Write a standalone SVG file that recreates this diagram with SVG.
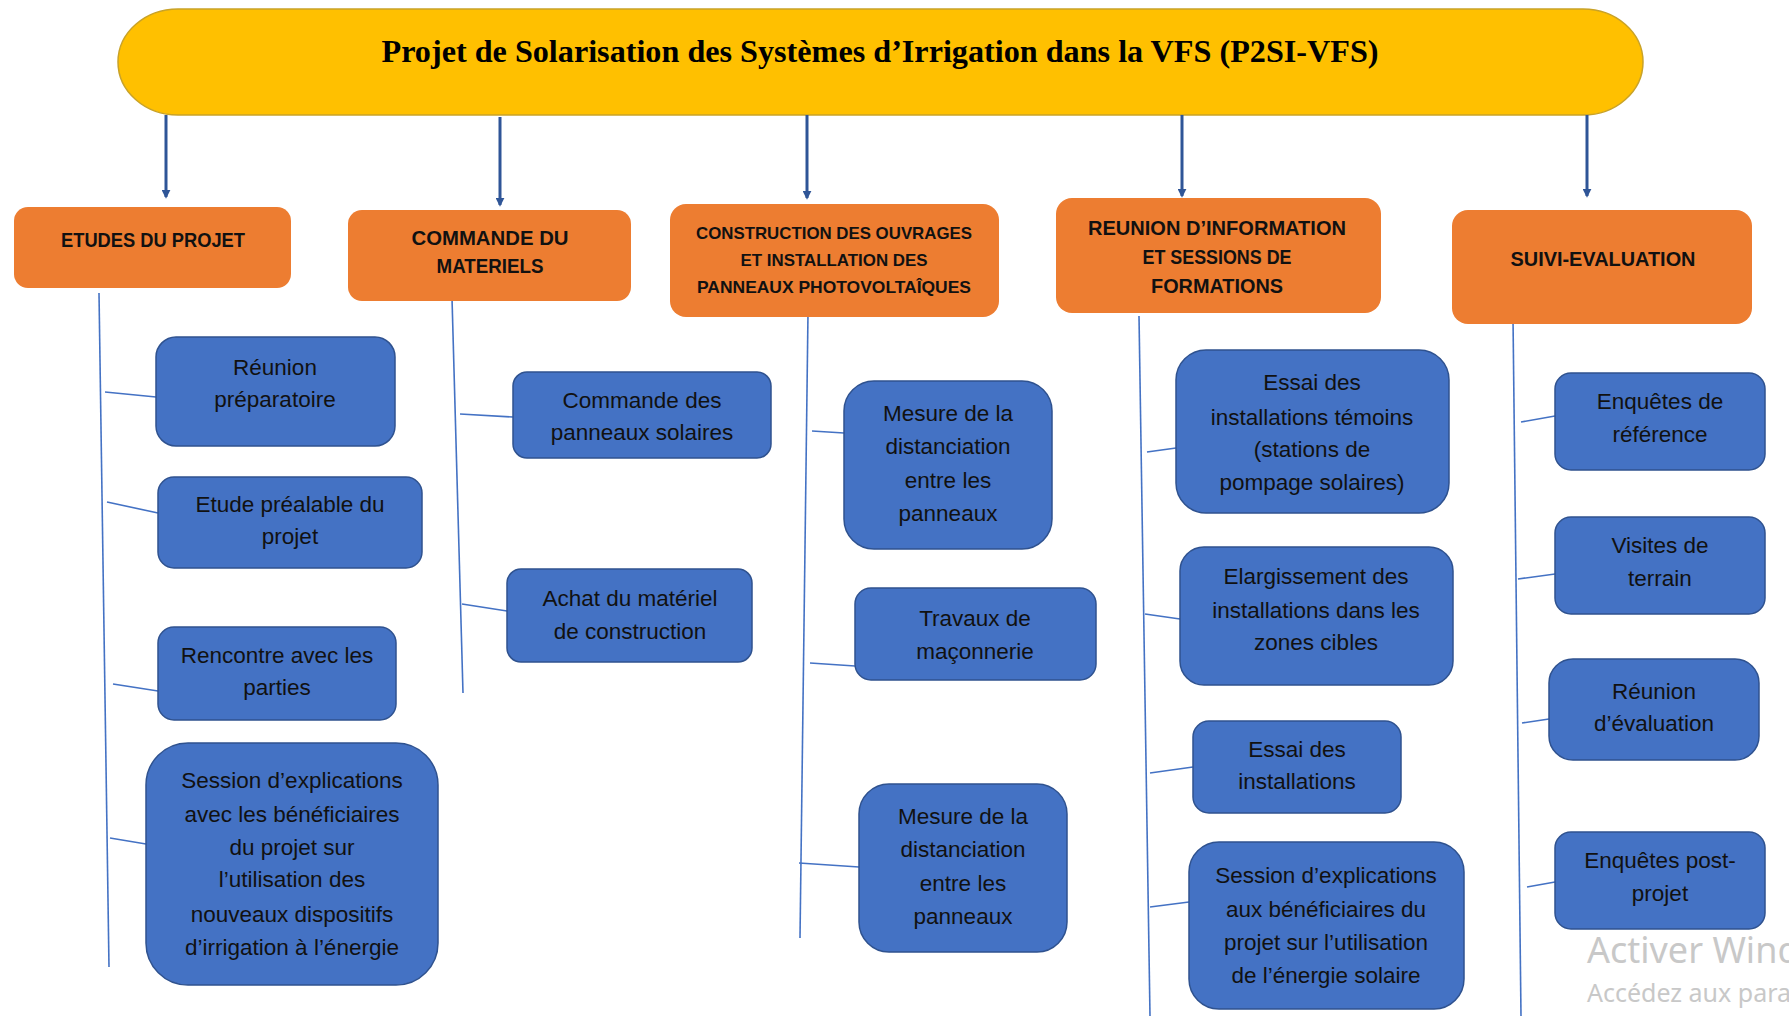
<svg xmlns="http://www.w3.org/2000/svg" width="1789" height="1016" viewBox="0 0 1789 1016">
<style>
.title{font-family:"Liberation Serif","Times New Roman",serif;font-weight:bold;font-size:31px;fill:#000}
.hdr{fill:#ED7D31}
.ht{font-family:"Liberation Sans",Arial,sans-serif;font-weight:bold;font-size:20px;fill:#111;text-anchor:middle}
.ht2{font-family:"Liberation Sans",Arial,sans-serif;font-weight:bold;font-size:17px;fill:#111;text-anchor:middle}
.box{fill:#4472C4;stroke:#2F528F;stroke-width:1.5}
.bt{font-family:"Liberation Sans",Arial,sans-serif;font-size:22.5px;fill:#111;text-anchor:middle}
.vl{stroke:#4472C4;stroke-width:1.6;fill:none}
.ar{stroke:#2F5597;stroke-width:3;fill:none;marker-end:url(#ah)}
.wm{font-family:"Noto Sans","Open Sans",sans-serif;fill:#C8C8C8}
</style>
<defs>
<marker id="ah" viewBox="0 0 10 10" refX="8" refY="5" markerWidth="3" markerHeight="3" orient="auto">
<path d="M0,0 L10,5 L0,10 z" fill="#2F5597"/>
</marker>
</defs>
<rect width="1789" height="1016" fill="#fff"/>

<g id="title">
<rect x="118" y="9" width="1525" height="106" rx="60" ry="53" fill="#FFC000" stroke="#C9A227" stroke-width="1.5"/>
<text class="title" x="880" y="62" text-anchor="middle" textLength="997" lengthAdjust="spacingAndGlyphs">Projet de Solarisation des Systèmes d’Irrigation dans la VFS (P2SI-VFS)</text>
</g>

<g id="connectors">
<line class="ar" x1="166" y1="115" x2="166" y2="197"/>
<line class="ar" x1="500" y1="117" x2="500" y2="205"/>
<line class="ar" x1="807" y1="115" x2="807" y2="198"/>
<line class="ar" x1="1182" y1="115" x2="1182" y2="196"/>
<line class="ar" x1="1587" y1="115" x2="1587" y2="196"/>
<line class="vl" x1="99" y1="293" x2="109" y2="967"/>
<line class="vl" x1="105" y1="392" x2="156" y2="397"/>
<line class="vl" x1="107" y1="502" x2="158" y2="513"/>
<line class="vl" x1="113" y1="684" x2="158" y2="691"/>
<line class="vl" x1="110" y1="838" x2="146" y2="844"/>
<line class="vl" x1="452" y1="298" x2="463" y2="693"/>
<line class="vl" x1="460" y1="414" x2="513" y2="417"/>
<line class="vl" x1="462" y1="604" x2="507" y2="611"/>
<line class="vl" x1="808" y1="313" x2="800" y2="938"/>
<line class="vl" x1="812" y1="431" x2="844" y2="433"/>
<line class="vl" x1="810" y1="663" x2="855" y2="666"/>
<line class="vl" x1="799" y1="863" x2="859" y2="867"/>
<line class="vl" x1="1139" y1="316" x2="1150" y2="1016"/>
<line class="vl" x1="1147" y1="452" x2="1176" y2="448"/>
<line class="vl" x1="1145" y1="614" x2="1180" y2="619"/>
<line class="vl" x1="1150" y1="773" x2="1193" y2="767"/>
<line class="vl" x1="1150" y1="907" x2="1189" y2="902"/>
<line class="vl" x1="1513" y1="318" x2="1521" y2="1016"/>
<line class="vl" x1="1521" y1="422" x2="1555" y2="416"/>
<line class="vl" x1="1518" y1="579" x2="1555" y2="574"/>
<line class="vl" x1="1522" y1="723" x2="1549" y2="719"/>
<line class="vl" x1="1527" y1="887" x2="1555" y2="882"/>
</g>

<g id="h1"><rect class="hdr" x="14" y="207" width="277" height="81" rx="14"/>
<text class="ht" x="153" y="247" textLength="184" lengthAdjust="spacingAndGlyphs">ETUDES DU PROJET</text></g>
<g id="h2"><rect class="hdr" x="348" y="210" width="283" height="91" rx="14"/>
<text class="ht" x="490" y="245" textLength="157" lengthAdjust="spacingAndGlyphs">COMMANDE DU</text>
<text class="ht" x="490" y="273" textLength="107" lengthAdjust="spacingAndGlyphs">MATERIELS</text></g>
<g id="h3"><rect class="hdr" x="670" y="204" width="329" height="113" rx="16"/>
<text class="ht2" x="834" y="239" textLength="276" lengthAdjust="spacingAndGlyphs">CONSTRUCTION DES OUVRAGES</text>
<text class="ht2" x="834" y="266" textLength="187" lengthAdjust="spacingAndGlyphs">ET INSTALLATION DES</text>
<text class="ht2" x="834" y="293" textLength="274" lengthAdjust="spacingAndGlyphs">PANNEAUX PHOTOVOLTAÎQUES</text></g>
<g id="h4"><rect class="hdr" x="1056" y="198" width="325" height="115" rx="16"/>
<text class="ht" x="1217" y="235" textLength="258" lengthAdjust="spacingAndGlyphs">REUNION D’INFORMATION</text>
<text class="ht" x="1217" y="264" textLength="149" lengthAdjust="spacingAndGlyphs">ET SESSIONS DE</text>
<text class="ht" x="1217" y="293" textLength="132" lengthAdjust="spacingAndGlyphs">FORMATIONS</text></g>
<g id="h5"><rect class="hdr" x="1452" y="210" width="300" height="114" rx="16"/>
<text class="ht" x="1603" y="266" textLength="185" lengthAdjust="spacingAndGlyphs">SUIVI-EVALUATION</text></g>

<g id="b11"><rect class="box" x="156" y="337" width="239" height="109" rx="20"/>
<text class="bt" x="275" y="375">Réunion</text><text class="bt" x="275" y="407">préparatoire</text></g>
<g id="b12"><rect class="box" x="158" y="477" width="264" height="91" rx="16"/>
<text class="bt" x="290" y="512">Etude préalable du</text><text class="bt" x="290" y="544">projet</text></g>
<g id="b13"><rect class="box" x="158" y="627" width="238" height="93" rx="16"/>
<text class="bt" x="277" y="663">Rencontre avec les</text><text class="bt" x="277" y="695">parties</text></g>
<g id="b14"><rect class="box" x="146" y="743" width="292" height="242" rx="42"/>
<text class="bt" x="292" y="788">Session d’explications</text>
<text class="bt" x="292" y="822">avec les bénéficiaires</text>
<text class="bt" x="292" y="855">du projet sur</text>
<text class="bt" x="292" y="887">l’utilisation des</text>
<text class="bt" x="292" y="922">nouveaux dispositifs</text>
<text class="bt" x="292" y="955">d’irrigation à l’énergie</text></g>

<g id="b21"><rect class="box" x="513" y="372" width="258" height="86" rx="14"/>
<text class="bt" x="642" y="408">Commande des</text><text class="bt" x="642" y="440">panneaux solaires</text></g>
<g id="b22"><rect class="box" x="507" y="569" width="245" height="93" rx="14"/>
<text class="bt" x="630" y="606">Achat du matériel</text><text class="bt" x="630" y="639">de construction</text></g>

<g id="b31"><rect class="box" x="844" y="381" width="208" height="168" rx="30"/>
<text class="bt" x="948" y="421">Mesure de la</text><text class="bt" x="948" y="454">distanciation</text>
<text class="bt" x="948" y="488">entre les</text><text class="bt" x="948" y="521">panneaux</text></g>
<g id="b32"><rect class="box" x="855" y="588" width="241" height="92" rx="16"/>
<text class="bt" x="975" y="626">Travaux de</text><text class="bt" x="975" y="659">maçonnerie</text></g>
<g id="b33"><rect class="box" x="859" y="784" width="208" height="168" rx="30"/>
<text class="bt" x="963" y="824">Mesure de la</text><text class="bt" x="963" y="857">distanciation</text>
<text class="bt" x="963" y="891">entre les</text><text class="bt" x="963" y="924">panneaux</text></g>

<g id="b41"><rect class="box" x="1176" y="350" width="273" height="163" rx="30"/>
<text class="bt" x="1312" y="390">Essai des</text><text class="bt" x="1312" y="425">installations témoins</text>
<text class="bt" x="1312" y="457">(stations de</text><text class="bt" x="1312" y="490">pompage solaires)</text></g>
<g id="b42"><rect class="box" x="1180" y="547" width="273" height="138" rx="24"/>
<text class="bt" x="1316" y="584">Elargissement des</text><text class="bt" x="1316" y="618">installations dans les</text>
<text class="bt" x="1316" y="650">zones cibles</text></g>
<g id="b43"><rect class="box" x="1193" y="721" width="208" height="92" rx="16"/>
<text class="bt" x="1297" y="757">Essai des</text><text class="bt" x="1297" y="789">installations</text></g>
<g id="b44"><rect class="box" x="1189" y="842" width="275" height="167" rx="30"/>
<text class="bt" x="1326" y="883">Session d’explications</text><text class="bt" x="1326" y="917">aux bénéficiaires du</text>
<text class="bt" x="1326" y="950">projet sur l’utilisation</text><text class="bt" x="1326" y="983">de l’énergie solaire</text></g>

<g id="b51"><rect class="box" x="1555" y="373" width="210" height="97" rx="16"/>
<text class="bt" x="1660" y="409">Enquêtes de</text><text class="bt" x="1660" y="442">référence</text></g>
<g id="b52"><rect class="box" x="1555" y="517" width="210" height="97" rx="16"/>
<text class="bt" x="1660" y="553">Visites de</text><text class="bt" x="1660" y="586">terrain</text></g>
<g id="b53"><rect class="box" x="1549" y="659" width="210" height="101" rx="24"/>
<text class="bt" x="1654" y="699">Réunion</text><text class="bt" x="1654" y="731">d’évaluation</text></g>
<g id="b54"><rect class="box" x="1555" y="832" width="210" height="97" rx="16"/>
<text class="bt" x="1660" y="868">Enquêtes post-</text><text class="bt" x="1660" y="901">projet</text></g>

<g id="watermark">
<text class="wm" x="1587" y="963" font-size="36">Activer Windows</text>
<text class="wm" x="1587" y="1002" font-size="25">Accédez aux paramètres</text>
</g>
</svg>
